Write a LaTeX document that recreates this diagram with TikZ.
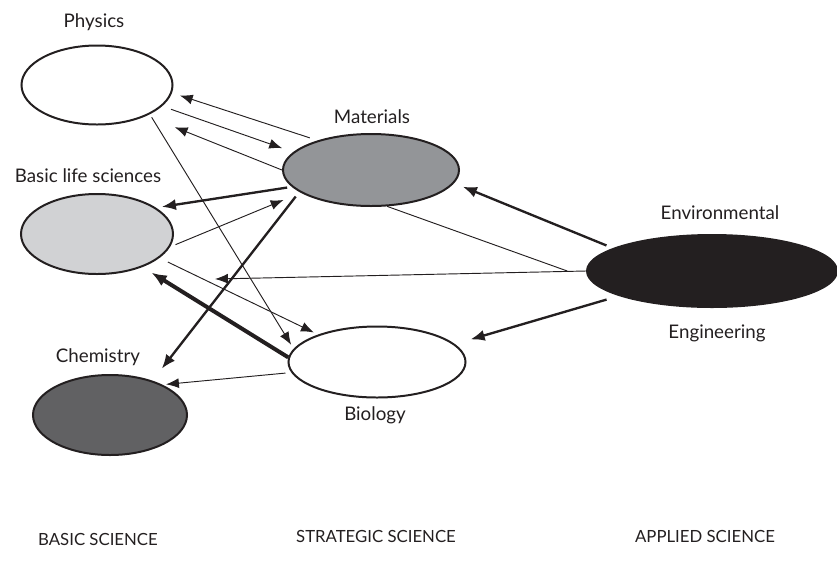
\documentclass[tikz,border=0pt]{standalone}
\usepackage{fontspec}
\setmainfont{Lato}
\usetikzlibrary{arrows.meta, positioning, shapes.geometric}

\definecolor{inkdark}{HTML}{231F20}
\definecolor{lifegray}{HTML}{D1D2D4}
\definecolor{matgray}{HTML}{939598}
\definecolor{chemgray}{HTML}{616163}

\tikzset{
  field/.style={ellipse, draw=inkdark, line width=1.7pt, inner sep=0pt},
  txt/.style={font=\fontsize{16}{18}\selectfont, text=inkdark, inner sep=0pt},
  band/.style={font=\fontsize{14.3}{16}\selectfont, text=inkdark, inner sep=0pt},
  thin/.style={draw=inkdark, line width=0.8pt, -{Latex[length=11pt, width=8.5pt]}},
  strong/.style={draw=inkdark, line width=2pt, -{Latex[length=12pt, width=9.5pt]}},
  heavy/.style={draw=inkdark, line width=3.4pt, -{Latex[length=13pt, width=10.5pt]}}
}

\begin{document}
\begin{tikzpicture}[x=0.03cm, y=-0.03cm]
            \useasboundingbox (0,0) rectangle (837,576);

            % Fields
            \node[field, fill=white, minimum width=4.53cm, minimum height=2.37cm] (phys) at (97,85) {};
            \node[field, fill=lifegray, minimum width=4.56cm, minimum height=2.40cm] (life) at (97,234) {};
            \node[field, fill=chemgray, minimum width=4.62cm, minimum height=2.40cm] (chem) at (110,415) {};
            \node[field, fill=matgray, minimum width=5.28cm, minimum height=2.16cm] (mat) at (371,170) {};
            \node[field, fill=white, minimum width=5.31cm, minimum height=2.13cm] (bio) at (377,362) {};
            \node[field, fill=inkdark, minimum width=7.50cm, minimum height=2.16cm] (env) at (712,271) {};

            % Labels
            \node[txt] (physlbl) at (94,22) {Physics};
            \node[txt] (lifelbl) at (88,176) {Basic life sciences};
            \node[txt] (chemlbl) at (98,357) {Chemistry};
            \node[txt] (matlbl) at (372,117) {Materials};
            \node[txt] (biolbl) at (375,415) {Biology};
            \node[txt] (envlbl) at (720,213) {Environmental};
            \node[txt] (englbl) at (717,333) {Engineering};
            \node[band] (basic) at (98,539) {BASIC SCIENCE};
            \node[band] (strat) at (376,536) {STRATEGIC SCIENCE};
            \node[band] (appl) at (705,536) {APPLIED SCIENCE};

            \coordinate (lifetip) at (215,279);

            % Links
            \draw[thin, shorten <=7pt, shorten >=7pt] (mat.151) -- (phys.-6);
            \draw[thin, shorten <=8pt, shorten >=10pt] (phys.-18) -- (mat.167);
            \draw[thin, shorten >=26pt] (mat.180) -- (phys.-32);
            \draw[strong, shorten <=4pt, shorten >=5pt] (mat.192) -- (life.24);
            \draw[thin, shorten <=5pt, shorten >=16pt] (life.-10) -- (mat.198);
            \draw[thin, shorten <=3pt, shorten >=4pt] (phys.-29) -- (bio.171);
            \draw[strong, shorten <=5pt, shorten >=13pt] (mat.197) -- (chem.39);
            \draw[heavy, shorten >=9pt] (bio.177) -- (life.-36);
            \draw[thin, shorten <=8pt, shorten >=4pt] (life.-21) -- (bio.155);
            \draw[thin, shorten <=5pt, shorten >=3pt] (bio.187) -- (chem.30);
            \draw[thin] (env.west) -- (lifetip);
            \draw[draw=inkdark, line width=0.8pt] (mat.-66) -- ([xshift=-16pt]env.west);
            \draw[strong, shorten <=6pt, shorten >=8pt] (env.167) -- (mat.-9);
            \draw[strong, shorten <=11pt, shorten >=14pt] (env.195) -- (bio.13);
\end{tikzpicture}
\end{document}
